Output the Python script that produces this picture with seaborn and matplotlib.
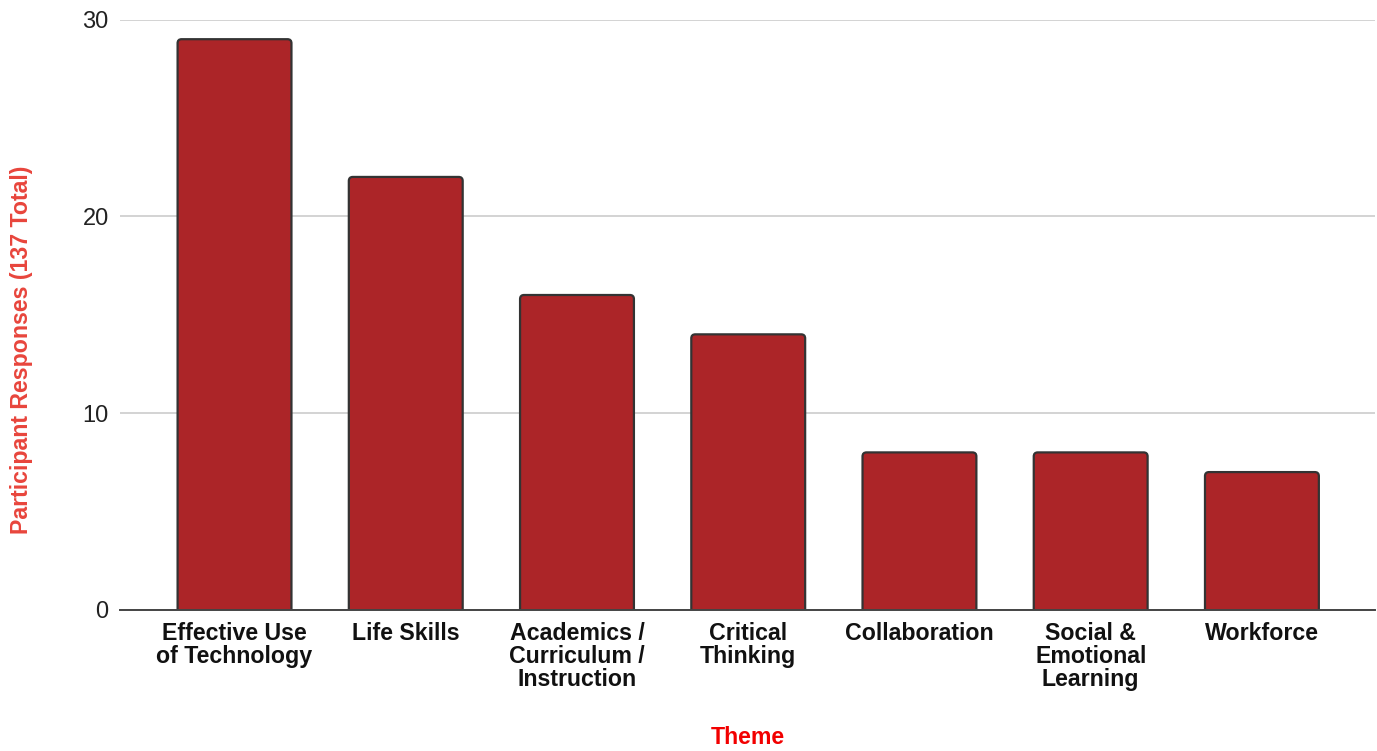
import matplotlib
matplotlib.use("Agg")
import matplotlib.pyplot as plt
from matplotlib.patches import FancyBboxPatch
import seaborn as sns
import pandas as pd

categories = ["Effective Use\nof Technology", "Life Skills", "Academics /\nCurriculum /\nInstruction",
              "Critical\nThinking", "Collaboration", "Social &\nEmotional\nLearning", "Workforce"]
values = [29, 22, 16, 14, 8, 8, 7]
yticks = [0, 10, 20, 30]

sns.set_theme(style="white")
plt.rcParams['font.family'] = ['Liberation Sans', 'DejaVu Sans']

df = pd.DataFrame({"Theme": categories, "Responses": values})

fig = plt.figure(figsize=(13.77, 7.51), dpi=100)
ax = fig.add_axes([0.087, 0.188, 0.9115, 0.786])

sns.barplot(data=df, x="Theme", y="Responses", color="#AC2528", saturation=1,
            width=0.665, edgecolor="#333333", linewidth=1.6, ax=ax)

ax.set_ylim(0, 30)
ax.set_xlim(-0.67, 6.66)

# replace rectangles with slightly rounded boxes (bottom extends below axis, clipped)
x_px_per_unit = 0.9115 * 1377 / (6.66 + 0.67)
y_px_per_unit = 0.786 * 751 / 30
r_px = 4.0
rs = r_px / x_px_per_unit
aspect = x_px_per_unit / y_px_per_unit
for p in list(ax.patches):
    x0, y0 = p.get_x(), p.get_y()
    w, h = p.get_width(), p.get_height()
    fb = FancyBboxPatch((x0, y0 - 0.5), w, h + 0.5,
                        boxstyle=f"round,pad=0,rounding_size={rs}",
                        mutation_aspect=aspect,
                        facecolor=p.get_facecolor(), edgecolor=p.get_edgecolor(),
                        linewidth=p.get_linewidth(), zorder=p.get_zorder())
    p.set_visible(False)
    ax.add_patch(fb)

ax.set_yticks(yticks)
ax.set_yticklabels([str(v) for v in yticks], fontsize=17, color="#222222")
ax.tick_params(axis="y", length=0, pad=8)
ax.tick_params(axis="x", length=0, pad=9)
for lbl in ax.get_xticklabels():
    lbl.set_fontsize(16.7)
    lbl.set_fontweight("bold")
    lbl.set_color("#111111")
    lbl.set_linespacing(0.98)
    lbl.set_verticalalignment("top")

ax.grid(axis="y", color="#CCCCCC", linewidth=1.2)
ax.set_axisbelow(True)
for s in ["top", "right", "left"]:
    ax.spines[s].set_visible(False)
ax.spines["bottom"].set_color("#444444")
ax.spines["bottom"].set_linewidth(1.4)
ax.spines["bottom"].set_zorder(5)

ax.set_ylabel("Participant Responses (137 Total)", fontsize=16.7, fontweight="bold",
              color="#E8453C", va="center", ha="center")
ax.yaxis.set_label_coords(-0.078, 0.44)
ax.set_xlabel("Theme", fontsize=16.7, fontweight="bold", color="#F20000", va="center", ha="center")
ax.xaxis.set_label_coords(0.5004, -0.217)

fig.savefig("out.png", dpi=100)
